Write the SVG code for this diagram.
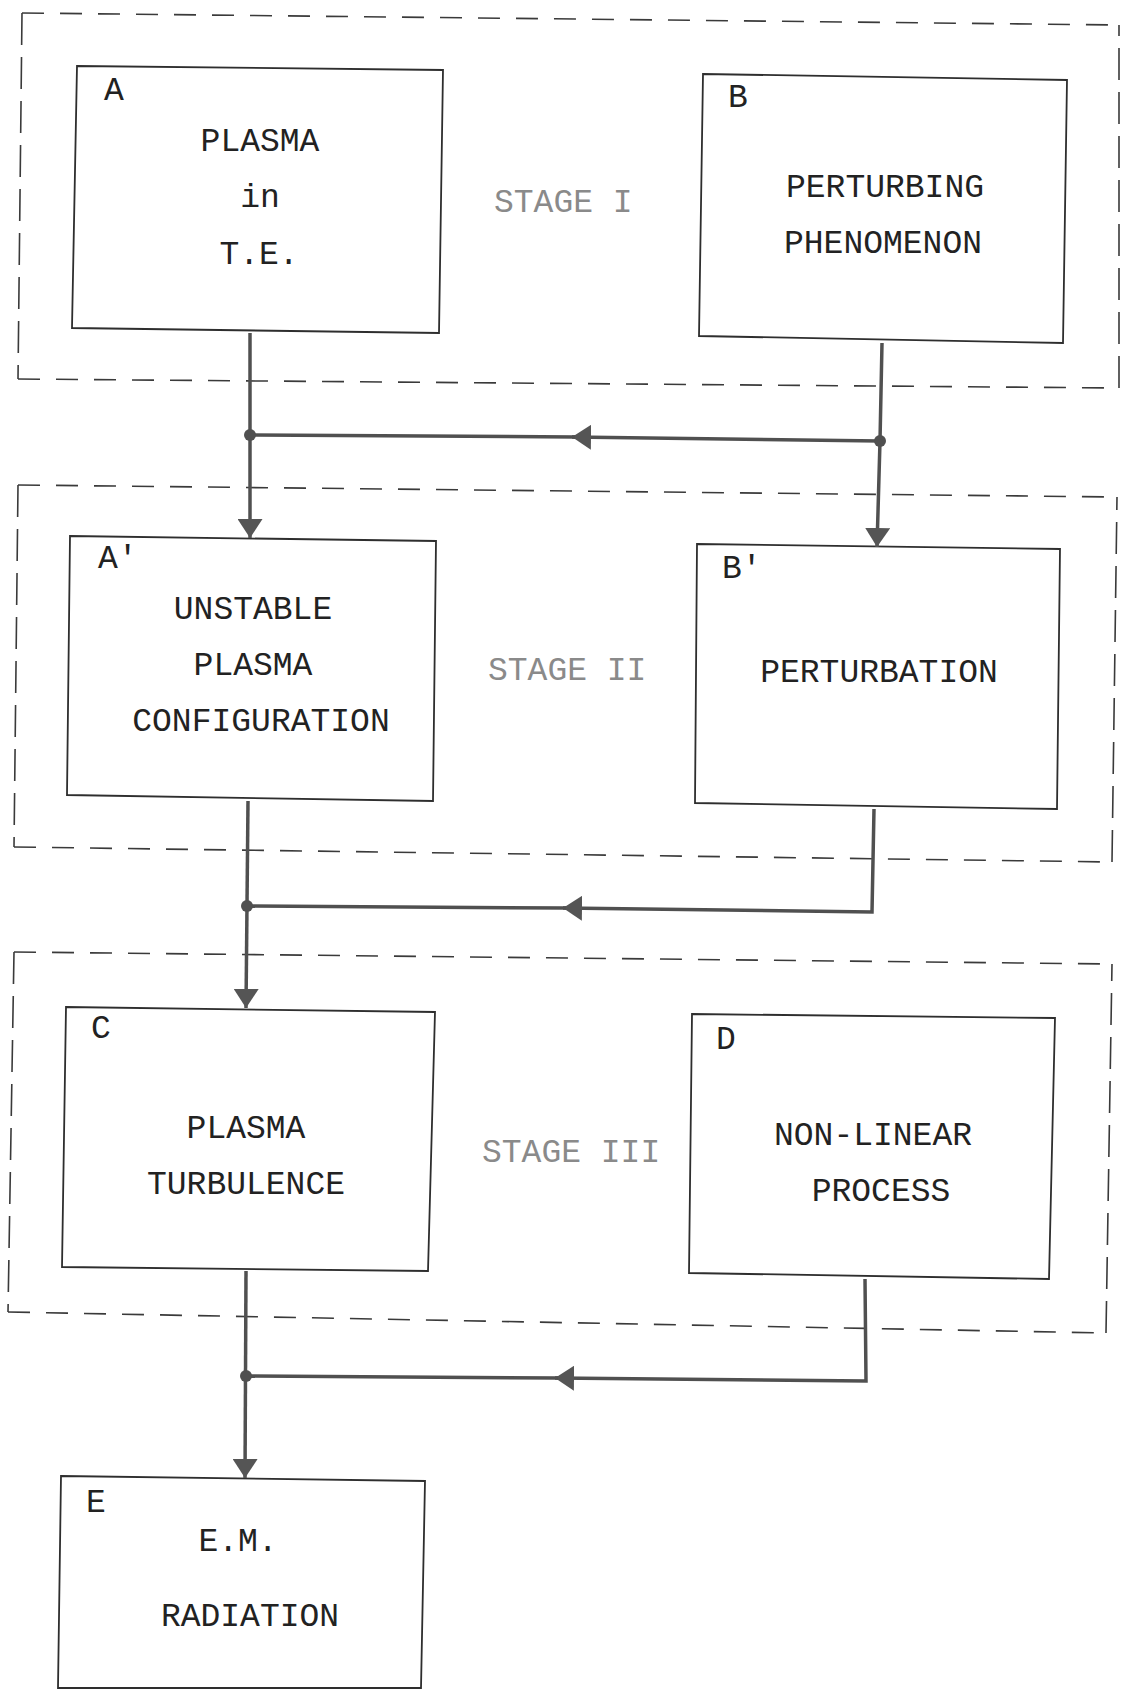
<svg xmlns="http://www.w3.org/2000/svg" width="1121" height="1690" viewBox="0 0 1121 1690">
<style>
.bg{fill:#ffffff}
.box{fill:none;stroke:#2e2e2e;stroke-width:1.8;stroke-linejoin:miter}
.stageH{fill:none;stroke:#3a3a3a;stroke-width:1.6;stroke-dasharray:22 16}
.stageV{fill:none;stroke:#3a3a3a;stroke-width:1.6;stroke-dasharray:32 12}
.t{font-family:"Liberation Mono","DejaVu Sans Mono",monospace;font-size:33px;fill:#222}
.c{text-anchor:middle}
.st{font-family:"Liberation Mono","DejaVu Sans Mono",monospace;font-size:33px;fill:#8a8a8a}
.con{fill:none;stroke:#505050;stroke-width:3.5;stroke-linejoin:miter}
.dot{fill:#505050}
</style>
<defs>
<marker id="ah" markerUnits="userSpaceOnUse" markerWidth="19" markerHeight="25" viewBox="0 0 19 25" refX="19" refY="12.5" orient="auto">
<path d="M0,0 L19,12.5 L0,25 Z" fill="#555"/>
</marker>
</defs>
<rect class="bg" x="0" y="0" width="1121" height="1690"/>

<g id="stage1">
<path class="stageH" d="M22,13 L1119,25"/>
<path class="stageV" d="M22,13 L18,379"/>
<path class="stageH" d="M18,379 L1119,388"/>
<path class="stageV" d="M1119,388 L1119,25"/>
<text class="st" x="494" y="212">STAGE I</text>
</g>
<g id="stage2">
<path class="stageH" d="M18,485 L1117,497"/>
<path class="stageV" d="M18,485 L14,847"/>
<path class="stageH" d="M14,847 L1112,862"/>
<path class="stageV" d="M1112,862 L1117,497"/>
<text class="st" x="488" y="680">STAGE II</text>
</g>
<g id="stage3">
<path class="stageH" d="M14,952 L1112,964"/>
<path class="stageV" d="M14,952 L8,1312"/>
<path class="stageH" d="M8,1312 L1106,1333"/>
<path class="stageV" d="M1106,1333 L1112,964"/>
<text class="st" x="482" y="1162">STAGE III</text>
</g>

<g id="nodeA">
<polygon class="box" points="77,66 443,70 439,333 72,328"/>
<text class="t" x="104" y="100">A</text>
<text class="t c" x="260" y="151">PLASMA</text>
<text class="t c" x="260" y="207">in</text>
<text class="t c" x="259" y="264">T.E.</text>
</g>
<g id="nodeB">
<polygon class="box" points="703,74 1067,80 1063,343 699,336"/>
<text class="t" x="728" y="107">B</text>
<text class="t c" x="885" y="197">PERTURBING</text>
<text class="t c" x="883" y="253">PHENOMENON</text>
</g>
<g id="nodeA2">
<polygon class="box" points="70,536 436,541 433,801 67,795"/>
<text class="t" x="98" y="568">A'</text>
<text class="t c" x="253" y="619">UNSTABLE</text>
<text class="t c" x="253" y="675">PLASMA</text>
<text class="t c" x="261" y="731">CONFIGURATION</text>
</g>
<g id="nodeB2">
<polygon class="box" points="697,544 1060,549 1057,809 695,803"/>
<text class="t" x="722" y="578">B'</text>
<text class="t c" x="879" y="682">PERTURBATION</text>
</g>
<g id="nodeC">
<polygon class="box" points="66,1007 435,1012 428,1271 62,1267"/>
<text class="t" x="91" y="1038">C</text>
<text class="t c" x="246" y="1138">PLASMA</text>
<text class="t c" x="246" y="1194">TURBULENCE</text>
</g>
<g id="nodeD">
<polygon class="box" points="692,1014 1055,1018 1049,1279 689,1273"/>
<text class="t" x="716" y="1049">D</text>
<text class="t c" x="873" y="1145">NON-LINEAR</text>
<text class="t c" x="881" y="1201">PROCESS</text>
</g>
<g id="nodeE">
<polygon class="box" points="61,1476 425,1481 421,1688 58,1688"/>
<text class="t" x="86" y="1512">E</text>
<text class="t c" x="238" y="1551">E.M.</text>
<text class="t c" x="250" y="1626">RADIATION</text>
</g>

<g id="connectors">
<path class="con" d="M250,333 L250,538" marker-end="url(#ah)"/>
<path class="con" d="M882,343 L880,441 L877,547" marker-end="url(#ah)"/>
<path class="con" d="M880,441 L572,437" marker-end="url(#ah)"/>
<path class="con" d="M575,437 L250,435"/>
<circle class="dot" cx="250" cy="435" r="6"/>
<circle class="dot" cx="880" cy="441" r="6"/>

<path class="con" d="M248,801 L246,1008" marker-end="url(#ah)"/>
<path class="con" d="M874,809 L872,912 L563,908" marker-end="url(#ah)"/>
<path class="con" d="M566,908 L247,906"/>
<circle class="dot" cx="247" cy="906" r="6"/>

<path class="con" d="M246,1271 L245,1478" marker-end="url(#ah)"/>
<path class="con" d="M865,1279 L866,1381 L555,1378" marker-end="url(#ah)"/>
<path class="con" d="M558,1378 L246,1376"/>
<circle class="dot" cx="246" cy="1376" r="6"/>
</g>
</svg>
